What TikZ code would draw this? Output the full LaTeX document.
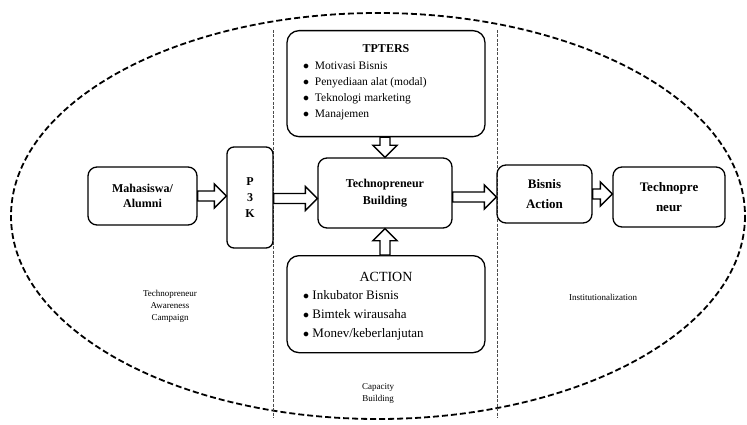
\documentclass[tikz,border=0pt]{standalone}
\usepackage{fontspec}
\setmainfont{Liberation Serif}
\usetikzlibrary{calc}
\begin{document}
\begin{tikzpicture}[x=1pt,y=-1pt,
  box/.style={draw, line width=1.3pt, rounded corners=9pt, align=center, font=\fontsize{12}{15}\selectfont\bfseries},
  harrow/.style={draw, line width=1.3pt, fill=white, line join=miter, to path={
    ($(\tikztotarget)!12pt!(\tikztostart)$) coordinate (hb)
    ($(\tikztostart)!5pt!90:(\tikztotarget)$) -- ($(hb)!5pt!90:(\tikztotarget)$)
    -- ($(hb)!12pt!90:(\tikztotarget)$) -- (\tikztotarget)
    -- ($(hb)!12pt!-90:(\tikztotarget)$) -- ($(hb)!5pt!-90:(\tikztotarget)$)
    -- ($(\tikztostart)!5pt!-90:(\tikztotarget)$) -- cycle}},
  sep/.style={draw=black!70, line width=0.6pt, dash pattern=on 3pt off 1.5pt},
  lbl/.style={font=\fontsize{9}{12}\selectfont, align=center}]
\useasboundingbox (0,0) rectangle (747,425);
\draw[line width=1.8pt, dash pattern=on 6pt off 3pt] (378,216) ellipse [x radius=367, y radius=203];
\draw[sep] (273,30) -- (273,418);
\draw[sep] (497,30) -- (497,418);
\node[box, minimum width=109pt, minimum height=58pt] (mhs) at (142.5,196) {Mahasiswa/\\Alumni};
\node[box, minimum width=46pt, minimum height=101pt, rounded corners=7pt, font=\fontsize{12}{16}\selectfont\bfseries] (p3k) at (250,197.5) {P\\3\\K};
\node[box, minimum width=134pt, minimum height=70pt, font=\fontsize{12}{17}\selectfont\bfseries] (tb) at (385,193) {Technopreneur\\Building};
\node[box, minimum width=198pt, minimum height=106pt, rounded corners=12pt, anchor=north] (tp) at (386,30) {};
\node[font=\fontsize{12}{14}\selectfont\bfseries, anchor=north] (tpt) at (386,41) {TPTERS};
\node[font=\fontsize{11.5}{16}\selectfont, anchor=north west, align=left, inner sep=0pt] (tpl) at (303,62) {$\bullet$\ \ Motivasi Bisnis\\$\bullet$\ \ Penyediaan alat (modal)\\$\bullet$\ \ Teknologi marketing\\$\bullet$\ \ Manajemen};
\node[box, minimum width=198pt, minimum height=97pt, rounded corners=12pt, anchor=north] (ac) at (386,255) {};
\node[font=\fontsize{14}{16}\selectfont, anchor=north] (act) at (386,269) {ACTION};
\node[font=\fontsize{13}{19}\selectfont, anchor=north west, align=left, inner sep=0pt] (acl) at (303,290) {$\bullet$\ Inkubator Bisnis\\$\bullet$\ Bimtek wirausaha\\$\bullet$\ Monev/keberlanjutan};
\node[box, minimum width=95pt, minimum height=58pt, font=\fontsize{13}{20}\selectfont\bfseries] (ba) at (544.5,194) {Bisnis\\Action};
\node[box, minimum width=112pt, minimum height=60pt, font=\fontsize{13}{20}\selectfont\bfseries] (tn) at (669,197) {Technopre\\neur};
\node[lbl] (l1) at (170,306) {Technopreneur\\Awareness\\Campaign};
\node[lbl] (l2) at (378,393) {Capacity\\Building};
\node[lbl] (l3) at (603,297) {Institutionalization};
\draw[harrow] (mhs.east) to (p3k.west |- mhs.east);
\draw[harrow] ([yshift=-1pt]p3k.east) to ([yshift=-1pt]tb.west |- p3k.east);
\draw[harrow] ([yshift=-4pt]tb.east) to ([yshift=-4pt]ba.west |- tb.east);
\draw[harrow] (ba.east) to (tn.west |- ba.east);
\draw[harrow] (tp.south -| tb.north) to (tb.north);
\draw[harrow] (ac.north -| tb.south) to (tb.south);
\end{tikzpicture}
\end{document}
